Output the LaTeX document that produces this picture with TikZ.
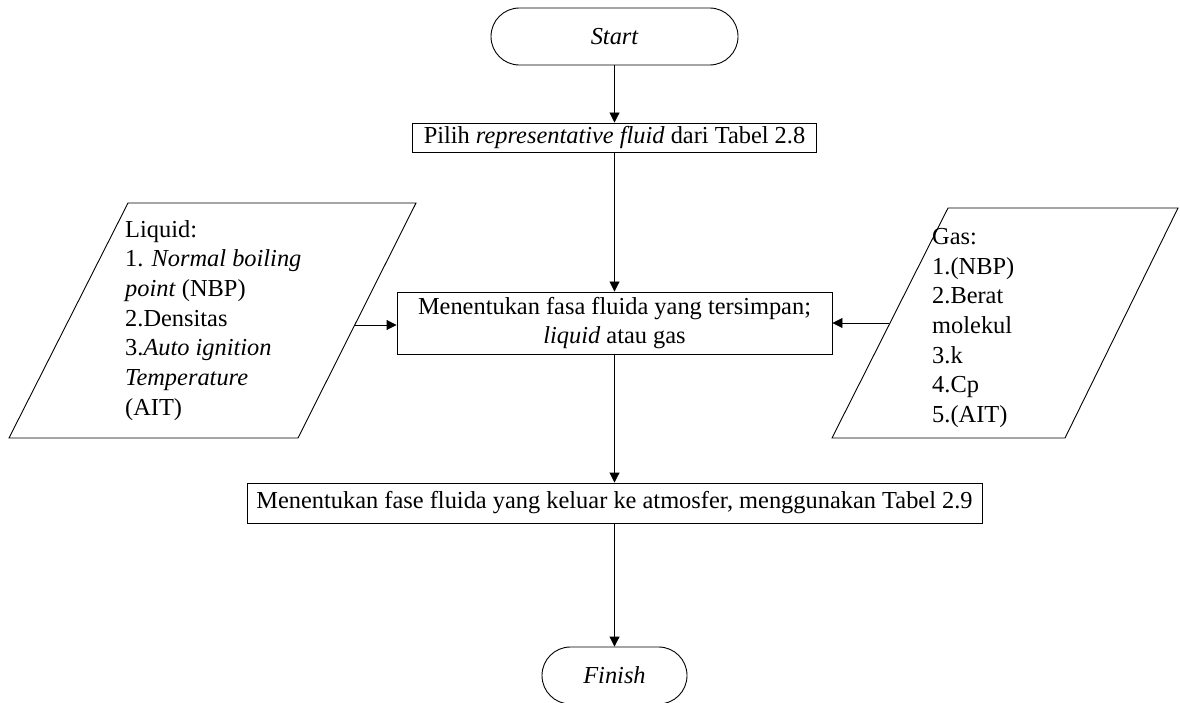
\documentclass[tikz,border=0pt]{standalone}
\usepackage{fontspec}
\setmainfont{Liberation Serif}
\usetikzlibrary{arrows.meta,calc}
\begin{document}
\begin{tikzpicture}[x=1pt,y=-1pt,
  every node/.style={font=\fontsize{24.4}{29.7}\selectfont, inner sep=0pt},
  proc/.style={draw, line width=0.9pt, align=center},
  term/.style={draw, line width=0.9pt, rounded corners=28.4pt, minimum height=57pt},
  io/.style={draw, line width=0.9pt},
  arr/.style={-{Triangle[length=10pt,width=10pt]}, line width=0.9pt}]
\useasboundingbox (0,0) rectangle (1180,703);

% terminals and process boxes
\node[term, minimum width=247pt] (start) at (614.5,36.5) {\itshape Start};
\node[proc, minimum width=404pt, minimum height=29pt] (pilih) at (614.5,137.5)
  {Pilih \textit{representative fluid} dari Tabel 2.8};
\node[proc, minimum width=435pt, minimum height=62pt] (mid) at (614.5,323)
  {Menentukan fasa fluida yang tersimpan;\\\textit{liquid} atau gas};
\node[proc, minimum width=735pt, minimum height=40pt] (final) at (614.5,503)
  {Menentukan fase fluida yang keluar ke atmosfer, menggunakan Tabel 2.9};
\node[term, minimum width=145pt] (finish) at (614.5,675.5) {\itshape Finish};

% input/output parallelograms
\coordinate (l1) at (128,203);
\coordinate (l2) at (416,203);
\coordinate (l3) at (298,438);
\coordinate (l4) at (9,438);
\draw[io] (l1) -- (l2) -- (l3) -- (l4) -- cycle;
\node[anchor=north west, align=left] (liqtext) at (125,220)
  {Liquid:\\1. \textit{Normal boiling}\\\textit{point} (NBP)\\2.Densitas\\3.\textit{Auto ignition}\\\textit{Temperature}\\(AIT)};
\coordinate (liqout) at (355,325);

\coordinate (g1) at (948,208);
\coordinate (g2) at (1178,208);
\coordinate (g3) at (1065,438);
\coordinate (g4) at (832,438);
\draw[io] (g1) -- (g2) -- (g3) -- (g4) -- cycle;
\node[anchor=north west, align=left] (gastext) at (932,228)
  {Gas:\\1.(NBP)\\2.Berat\\molekul\\3.k\\4.Cp\\5.(AIT)};
\coordinate (gasout) at (889,323);

% connectors
\draw[arr] (start.south) -- (pilih.north);
\draw[arr] (pilih.south) -- (mid.north);
\draw[arr] (mid.south) -- (final.north);
\draw[arr] (final.south) -- (finish.north);
\draw[arr] (liqout) -- (liqout -| mid.west);
\draw[arr] (gasout) -- (gasout -| mid.east);
\end{tikzpicture}
\end{document}
